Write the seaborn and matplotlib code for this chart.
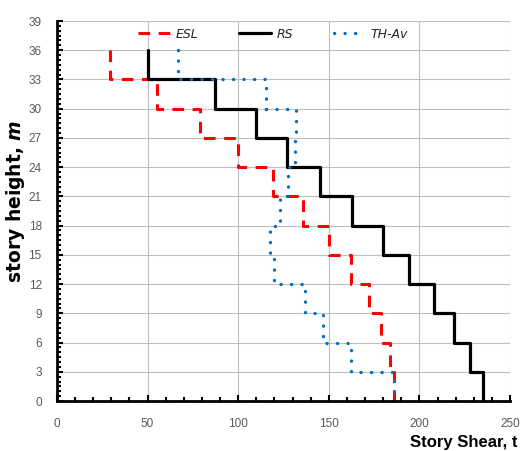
import numpy as np
import pandas as pd
import matplotlib
matplotlib.use("Agg")
import matplotlib.pyplot as plt
import seaborn as sns
from matplotlib.ticker import MultipleLocator

# Story boundaries (m) and story shear per storey (t), listed bottom to top
story_edges = [0, 3, 6, 9, 12, 15, 18, 21, 24, 27, 30, 33, 36]
esl_shear = [186, 184, 179, 172, 162, 150, 136, 119, 100, 79, 55, 29]
rs_shear = [235, 228, 219, 208, 194, 180, 163, 145, 127, 110, 87, 50]
th_av_shear = [186, 162, 147, 137, 120, 117.5, 123, 127.5, 131.5, 132, 115.5, 67]

x_ticks = [0, 50, 100, 150, 200, 250]
y_ticks = list(range(0, 40, 3))


def step_profile(values, edges):
    """Stepped shear profile traced from the roof down to the base."""
    xs, ys = [], []
    for i, v in enumerate(values):
        xs += [v, v]
        ys += [edges[i], edges[i + 1]]
    return pd.DataFrame({"shear": xs[::-1], "height": ys[::-1]})


sns.set_theme(style="white")
plt.rcParams["font.family"] = ["Liberation Sans Narrow", "Liberation Sans", "DejaVu Sans"]
plt.rcParams["mathtext.fontset"] = "custom"
plt.rcParams["mathtext.it"] = "DejaVu Sans:italic:bold"
plt.rcParams["mathtext.rm"] = "DejaVu Sans:bold"

fig = plt.figure(figsize=(5.2, 4.51), dpi=100)
ax = fig.add_axes([57 / 520, 50 / 451, 453 / 520, 380 / 451])

ax.grid(True, which="major", color="#BFBFBF", linewidth=0.8)
ax.set_axisbelow(True)

sns.lineplot(data=step_profile(esl_shear, story_edges), x="shear", y="height",
             sort=False, estimator=None, ax=ax, color="#FF0000", linewidth=2.2,
             linestyle=(0, (3.8, 2.8)), label="ESL")
sns.lineplot(data=step_profile(rs_shear, story_edges), x="shear", y="height",
             sort=False, estimator=None, ax=ax, color="black", linewidth=2.3,
             label="RS")
sns.lineplot(data=step_profile(th_av_shear, story_edges), x="shear", y="height",
             sort=False, estimator=None, ax=ax, color="#0070C0", linewidth=2.4,
             linestyle=(0, (0.05, 3.1)), dash_capstyle="round", label="TH-Av")

ax.set_xlim(0, 250)
ax.set_ylim(0, 39)
ax.set_xticks(x_ticks)
ax.set_yticks(y_ticks)
ax.set_xticklabels([str(t) for t in x_ticks])
ax.set_yticklabels([str(t) for t in y_ticks])
ax.xaxis.set_minor_locator(MultipleLocator(10))
ax.yaxis.set_minor_locator(MultipleLocator(0.5))
ax.tick_params(which="major", direction="in", length=4, width=1.5, color="black",
               labelsize=8.5, labelcolor="#595959", bottom=True, left=True)
ax.tick_params(axis="x", which="major", pad=12)
ax.tick_params(axis="y", which="major", pad=11)
ax.tick_params(which="minor", direction="in", length=3, width=1.5, color="black",
               bottom=True, left=True)

for side in ("top", "right"):
    ax.spines[side].set_visible(False)
for side in ("left", "bottom"):
    ax.spines[side].set_color("black")
    ax.spines[side].set_linewidth(2)

ax.set_xlabel("")
ax.set_ylabel("")

leg = ax.legend(loc="upper left", bbox_to_anchor=(0.155, 1.012), ncol=3, frameon=False,
                handlelength=2.5, handletextpad=0.45, columnspacing=3.3,
                prop={"family": "Liberation Sans Narrow", "style": "italic", "size": 9})
for t in leg.get_texts():
    t.set_color("#262626")

fig.text(517 / 520, (451 - 442) / 451, "Story Shear, t",
         ha="right", va="center", fontsize=12, fontweight="bold",
         family="Liberation Sans", color="black")
fig.text(16 / 520, (451 - 201) / 451, r"story height, $\it{m}$", rotation=90,
         ha="center", va="center", fontsize=13.5, fontweight="bold",
         family="DejaVu Sans", color="black")

fig.savefig("out.png", dpi=100)
